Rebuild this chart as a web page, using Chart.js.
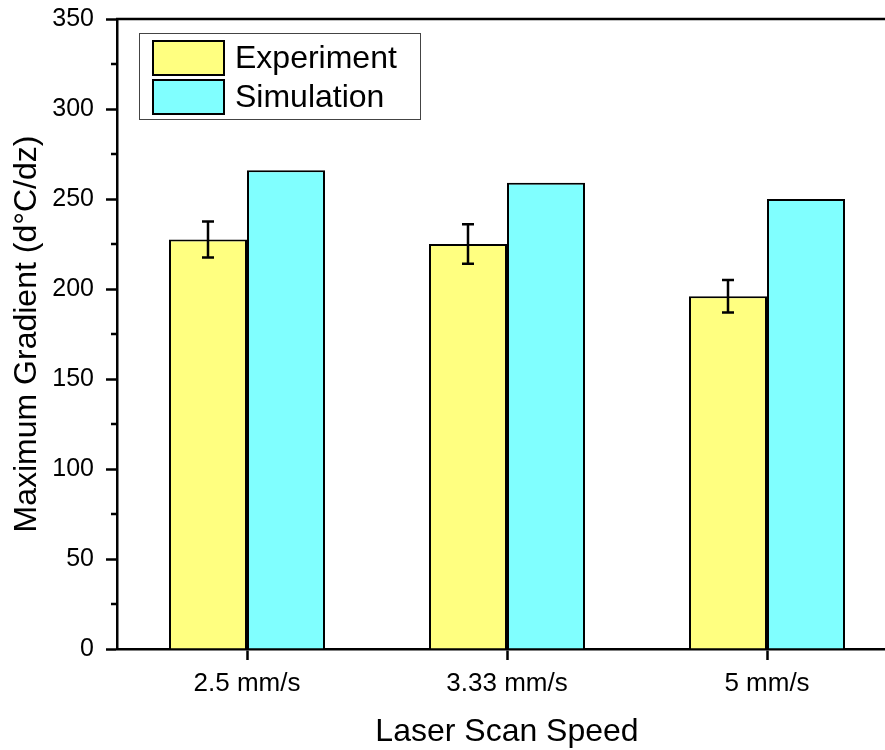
<!DOCTYPE html>
<html>
<head>
<meta charset="utf-8">
<script src="https://cdn.jsdelivr.net/npm/chart.js@4"></script>
<style>
    html, body { margin: 0; padding: 0; background: #fff; overflow: hidden; }
    canvas { display: block; }
</style>
</head>
<body>
<canvas id="chart" width="900" height="750"></canvas>
<script>
// Data
const categories = ["2.5 mm/s", "3.33 mm/s", "5 mm/s"];
const experiment = [227.5, 225, 196];
const experimentErr = [10, 11, 9];
const simulation = [266, 259, 250];
const minorTicks = [25, 75, 125, 175, 225, 275, 325];

const FONT = "'Liberation Sans', Arial, sans-serif";

// Error bars on the experiment series
const errorBars = {
    id: "errorBars",
    afterDatasetsDraw(chart) {
        const ctx = chart.ctx;
        const y = chart.scales.y;
        const meta = chart.getDatasetMeta(0);
        ctx.save();
        ctx.strokeStyle = "#000";
        ctx.lineWidth = 2.5;
        meta.data.forEach((bar, i) => {
            const top = y.getPixelForValue(experiment[i] + experimentErr[i]);
            const bot = y.getPixelForValue(experiment[i] - experimentErr[i]);
            ctx.beginPath();
            ctx.moveTo(bar.x, top);
            ctx.lineTo(bar.x, bot);
            ctx.moveTo(bar.x - 6, top);
            ctx.lineTo(bar.x + 6, top);
            ctx.moveTo(bar.x - 6, bot);
            ctx.lineTo(bar.x + 6, bot);
            ctx.stroke();
        });
        ctx.restore();
    }
};

// Frame, minor ticks and legend box
const frame = {
    id: "frame",
    afterDraw(chart) {
        const ctx = chart.ctx;
        const a = chart.chartArea;
        const y = chart.scales.y;
        ctx.save();
        ctx.strokeStyle = "#000";
        ctx.lineWidth = 2.5;
        ctx.beginPath();
        ctx.moveTo(a.left - 1, a.top);
        ctx.lineTo(a.right, a.top);
        ctx.stroke();

        ctx.beginPath();
        minorTicks.forEach(v => {
            const py = y.getPixelForValue(v);
            ctx.moveTo(a.left - 6, py);
            ctx.lineTo(a.left, py);
        });
        ctx.stroke();

        // legend
        const lx = a.left + 22, ly = a.top + 14;
        ctx.lineWidth = 1;
        ctx.strokeStyle = "#444";
        ctx.strokeRect(lx + 0.5, ly + 0.5, 281, 86);
        chart.data.datasets.forEach((ds, i) => {
            const sy = ly + 8 + i * 39;
            ctx.fillStyle = ds.backgroundColor;
            ctx.fillRect(lx + 14, sy, 71, 34);
            ctx.lineWidth = 2;
            ctx.strokeStyle = "#000";
            ctx.strokeRect(lx + 14, sy, 71, 34);
            ctx.fillStyle = "#000";
            ctx.font = "32px " + FONT;
            ctx.textBaseline = "middle";
            ctx.fillText(ds.label, lx + 96, sy + 18);
        });
        ctx.restore();
    }
};

new Chart(document.getElementById("chart"), {
    type: "bar",
    data: {
        labels: categories,
        datasets: [
            {
                label: "Experiment",
                data: experiment,
                backgroundColor: "#FFFF80",
                borderColor: "#000",
                borderWidth: 2,
                categoryPercentage: 0.6,
                barPercentage: 1.0,
            },
            {
                label: "Simulation",
                data: simulation,
                backgroundColor: "#80FFFF",
                borderColor: "#000",
                borderWidth: 2,
                categoryPercentage: 0.6,
                barPercentage: 1.0,
            },
        ],
    },
    options: {
        responsive: false,
        animation: false,
        layout: { padding: { top: 19, right: 3, left: 0, bottom: 0 } },
        plugins: {
            legend: { display: false },
            tooltip: { enabled: false },
        },
        scales: {
            x: {
                grid: {
                    offset: false,
                    drawOnChartArea: false,
                    drawTicks: true,
                    tickLength: 11,
                    tickWidth: 2.5,
                    color: "#000",
                },
                border: { color: "#000", width: 2.5 },
                ticks: {
                    color: "#000",
                    padding: 8,
                    font: { family: FONT, size: 26 },
                },
                title: {
                    display: true,
                    text: "Laser Scan Speed",
                    color: "#000",
                    font: { family: FONT, size: 32, lineHeight: 1 },
                    padding: { top: 0, bottom: 2 },
                },
                afterFit(scale) {
                    scale.height = 101;
                    scale.paddingLeft = 0;
                    scale.paddingRight = 0;
                },
            },
            y: {
                min: 0,
                max: 350,
                grid: {
                    drawOnChartArea: false,
                    drawTicks: true,
                    tickLength: 11,
                    tickWidth: 2.5,
                    color: "#000",
                },
                border: { color: "#000", width: 2.5 },
                ticks: {
                    stepSize: 50,
                    color: "#000",
                    padding: 12,
                    font: { family: FONT, size: 25 },
                },
                title: {
                    display: true,
                    text: "Maximum Gradient (d\u00B0C/dz)",
                    color: "#000",
                    font: { family: FONT, size: 32, lineHeight: 1 },
                    padding: { top: 11, bottom: 0 },
                },
                afterFit(scale) {
                    scale.width = 117;
                    scale.paddingTop = 0;
                    scale.paddingBottom = 0;
                },
            },
        },
    },
    plugins: [errorBars, frame],
});
</script>
</body>
</html>
